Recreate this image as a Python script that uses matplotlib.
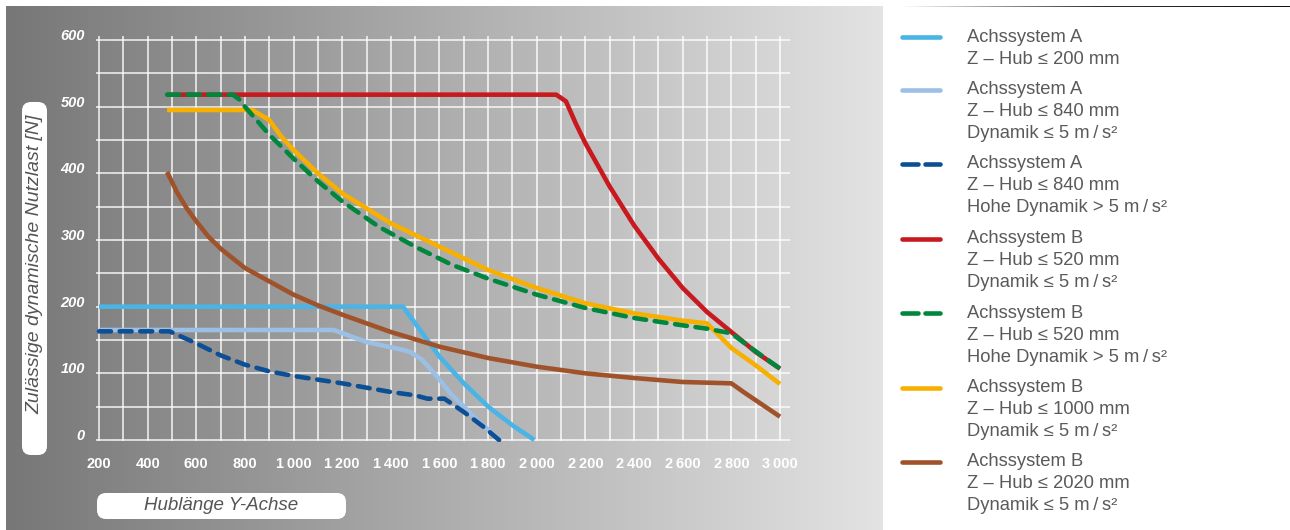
import numpy as np
import matplotlib
matplotlib.use('Agg')
import matplotlib.pyplot as plt
from matplotlib.patches import FancyBboxPatch
from matplotlib.lines import Line2D
from matplotlib.transforms import ScaledTranslation

plt.rcParams['font.family'] = ['Liberation Sans', 'DejaVu Sans']

W, H = 1290, 530

# data (x = Hublänge, y = Nutzlast N)
a200_x = [200, 1450, 1500, 1600, 1700, 1800, 1900, 1990]
a200_y = [200, 200, 175, 125, 85, 50, 22, 0]

a840_x = [200, 1165, 1300, 1440, 1480, 1530, 1590, 1645, 1700, 1770, 1850]
a840_y = [165, 165, 147, 136, 132, 120, 95, 70, 50, 25, 0]

a840h_x = [200, 490, 600, 700, 800, 900, 1000, 1200, 1400, 1500, 1550, 1620, 1700, 1780, 1845]
a840h_y = [163, 163, 145, 127, 113, 103, 96, 85, 72, 67, 62, 62, 42, 20, 0]

b520_x = [480, 2080, 2120, 2160, 2200, 2300, 2400, 2500, 2600, 2700, 2800, 2900, 3000]
b520_y = [518, 518, 508, 475, 445, 380, 322, 272, 228, 192, 162, 132, 107]

b520h_x = [480, 750, 780, 800, 900, 1000, 1100, 1200, 1350, 1500, 1650, 1800, 2000,
           2200, 2400, 2600, 2700, 2800, 2900, 3000]
b520h_y = [518, 518, 510, 500, 458, 422, 388, 358, 320, 290, 263, 242, 218,
           198, 183, 172, 167, 160, 133, 107]

b1000_x = [480, 830, 900, 950, 1000, 1100, 1200, 1400, 1600, 1800, 2000, 2200, 2400,
           2600, 2700, 2800, 2900, 3000]
b1000_y = [495, 495, 480, 455, 435, 400, 370, 325, 290, 255, 228, 205, 190,
           179, 175, 138, 112, 84]

b2020_x = [480, 520, 560, 600, 650, 700, 800, 900, 1000, 1100, 1200, 1300, 1400, 1500, 1600,
           1800, 2000, 2200, 2400, 2600, 2800, 2850, 3000]
b2020_y = [402, 372, 348, 328, 305, 287, 258, 238, 218, 202, 188, 175, 162, 151, 140,
           123, 110, 100, 93, 87, 85, 72, 35]

x_ticks = list(range(200, 3001, 200))
x_labels = ['{:,}'.format(v).replace(',', '\u2009') for v in x_ticks]
y_ticks = list(range(0, 601, 100))

ms = 'm\u2009/\u2009s²'
series = [
    (a200_x, a200_y, '#4ab4e6', 'solid', ['Achssystem A', 'Z – Hub ≤ 200 mm']),
    (a840_x, a840_y, '#9cbfe5', 'solid', ['Achssystem A', 'Z – Hub ≤ 840 mm', 'Dynamik ≤ 5 ' + ms]),
    (a840h_x, a840h_y, '#0d4f95', 'dashed', ['Achssystem A', 'Z – Hub ≤ 840 mm', 'Hohe Dynamik > 5 ' + ms]),
    (b520_x, b520_y, '#c8191f', 'solid', ['Achssystem B', 'Z – Hub ≤ 520 mm', 'Dynamik ≤ 5 ' + ms]),
    (b520h_x, b520h_y, '#00873d', 'dashed', ['Achssystem B', 'Z – Hub ≤ 520 mm', 'Hohe Dynamik > 5 ' + ms]),
    (b1000_x, b1000_y, '#f8b000', 'solid', ['Achssystem B', 'Z – Hub ≤ 1000 mm', 'Dynamik ≤ 5 ' + ms]),
    (b2020_x, b2020_y, '#a0532a', 'solid', ['Achssystem B', 'Z – Hub ≤ 2020 mm', 'Dynamik ≤ 5 ' + ms]),
]
zorders = [3, 3, 4, 3, 6, 5, 4]


def fx(px):
    return px / W


def fy(py):
    return 1 - py / H


fig = plt.figure(figsize=(W / 100, H / 100), dpi=100)

# gradient panel
bg = fig.add_axes([fx(6), 0, fx(883) - fx(6), fy(6)])
grad = np.linspace(0, 1, 256).reshape(1, -1)
bg.imshow(grad, aspect='auto', cmap=matplotlib.colors.LinearSegmentedColormap.from_list(
    'g', ['#777777', '#e3e3e3']), extent=[0, 1, 0, 1])
bg.set_axis_off()

# top rule over legend
rule = fig.add_axes([fx(900), fy(7.5), fx(1290) - fx(900), 1.5 / H])
rule.imshow(grad, aspect='auto', cmap=matplotlib.colors.LinearSegmentedColormap.from_list(
    'r', ['#ffffff', '#333333', '#111111']), extent=[0, 1, 0, 1])
rule.set_axis_off()

# main axes: x 200 -> px 99, 3000 -> px 780 ; y 0 -> py 440, 600 -> py 40
xs = (780 - 99) / 2800
ys = (440 - 40) / 600
xlo, xhi = 188, 3040
ylo, yhi = -3, 606
left = 99 + (xlo - 200) * xs
right = 780 + (xhi - 3000) * xs
bottom = 440 - ylo * ys
top = 440 - yhi * ys
ax = fig.add_axes([fx(left), fy(bottom), fx(right) - fx(left), fy(top) - fy(bottom)])
ax.set_xlim(xlo, xhi)
ax.set_ylim(ylo, yhi)
ax.patch.set_alpha(0)
for s in ax.spines.values():
    s.set_visible(False)

for v in range(0, 601, 50):
    ax.axhline(v, color='white', lw=1.1, alpha=0.9, zorder=1)
for v in range(200, 3001, 100):
    ax.plot([v, v], [0, yhi], color='white', lw=1.1, alpha=0.9, zorder=1)

for (xv, yv, c, ls, _), z in zip(series, zorders):
    if ls == 'dashed':
        ax.plot(xv, yv, color=c, lw=3.3, dashes=(2.6, 1.9), dash_capstyle='round',
                solid_joinstyle='round', zorder=z)
    else:
        ax.plot(xv, yv, color=c, lw=3.3, solid_capstyle='butt', solid_joinstyle='round', zorder=z)

ax.set_xticks(x_ticks)
ax.set_xticklabels(x_labels, color='white', fontweight='bold', fontsize=10.5)
ax.set_yticks(y_ticks)
ax.set_yticklabels([str(v) for v in y_ticks], color='white', fontweight='bold',
                   fontstyle='italic', fontsize=10.5)
ax.tick_params(length=0, axis='x', pad=11)
ax.tick_params(length=0, axis='y', pad=8)
for lab in ax.get_yticklabels():
    lab.set_transform(lab.get_transform() + ScaledTranslation(0, 4 / 72, fig.dpi_scale_trans))

# axis title boxes
asp = W / H
fig.patches.append(FancyBboxPatch((fx(22), fy(455)), fx(47) - fx(22), fy(102) - fy(455),
                                  boxstyle='round,pad=0,rounding_size=0.007',
                                  mutation_aspect=asp,
                                  transform=fig.transFigure, fc='white', ec='none'))
fig.text(fx(35), fy(264), 'Zulässige dynamische Nutzlast [N]', rotation=90,
         ha='center', va='center', fontsize=14, fontstyle='italic', color='#555555')
fig.patches.append(FancyBboxPatch((fx(97), fy(519)), fx(346) - fx(97), fy(493) - fy(519),
                                  boxstyle='round,pad=0,rounding_size=0.007',
                                  mutation_aspect=asp,
                                  transform=fig.transFigure, fc='white', ec='none'))
fig.text(fx(221), fy(506), 'Hublänge Y-Achse', ha='center', va='center',
         fontsize=13.5, fontstyle='italic', color='#555555')

# legend
ypx = 37
for xv, yv, c, ls, lines in series:
    if ls == 'dashed':
        segs = [(902, 918), (925, 940)]
    else:
        segs = [(902, 940)]
    for a, b in segs:
        fig.add_artist(Line2D([fx(a), fx(b)], [fy(ypx), fy(ypx)], color=c, lw=3.3,
                              solid_capstyle='round', transform=fig.transFigure))
    for i, t in enumerate(lines):
        fig.text(fx(967), fy(ypx + 22 * i), t, ha='left', va='center',
                 fontsize=13.2, color='#5a5a5a')
    ypx += 22 * len(lines) + 8.5

fig.savefig('out.png', dpi=100)
